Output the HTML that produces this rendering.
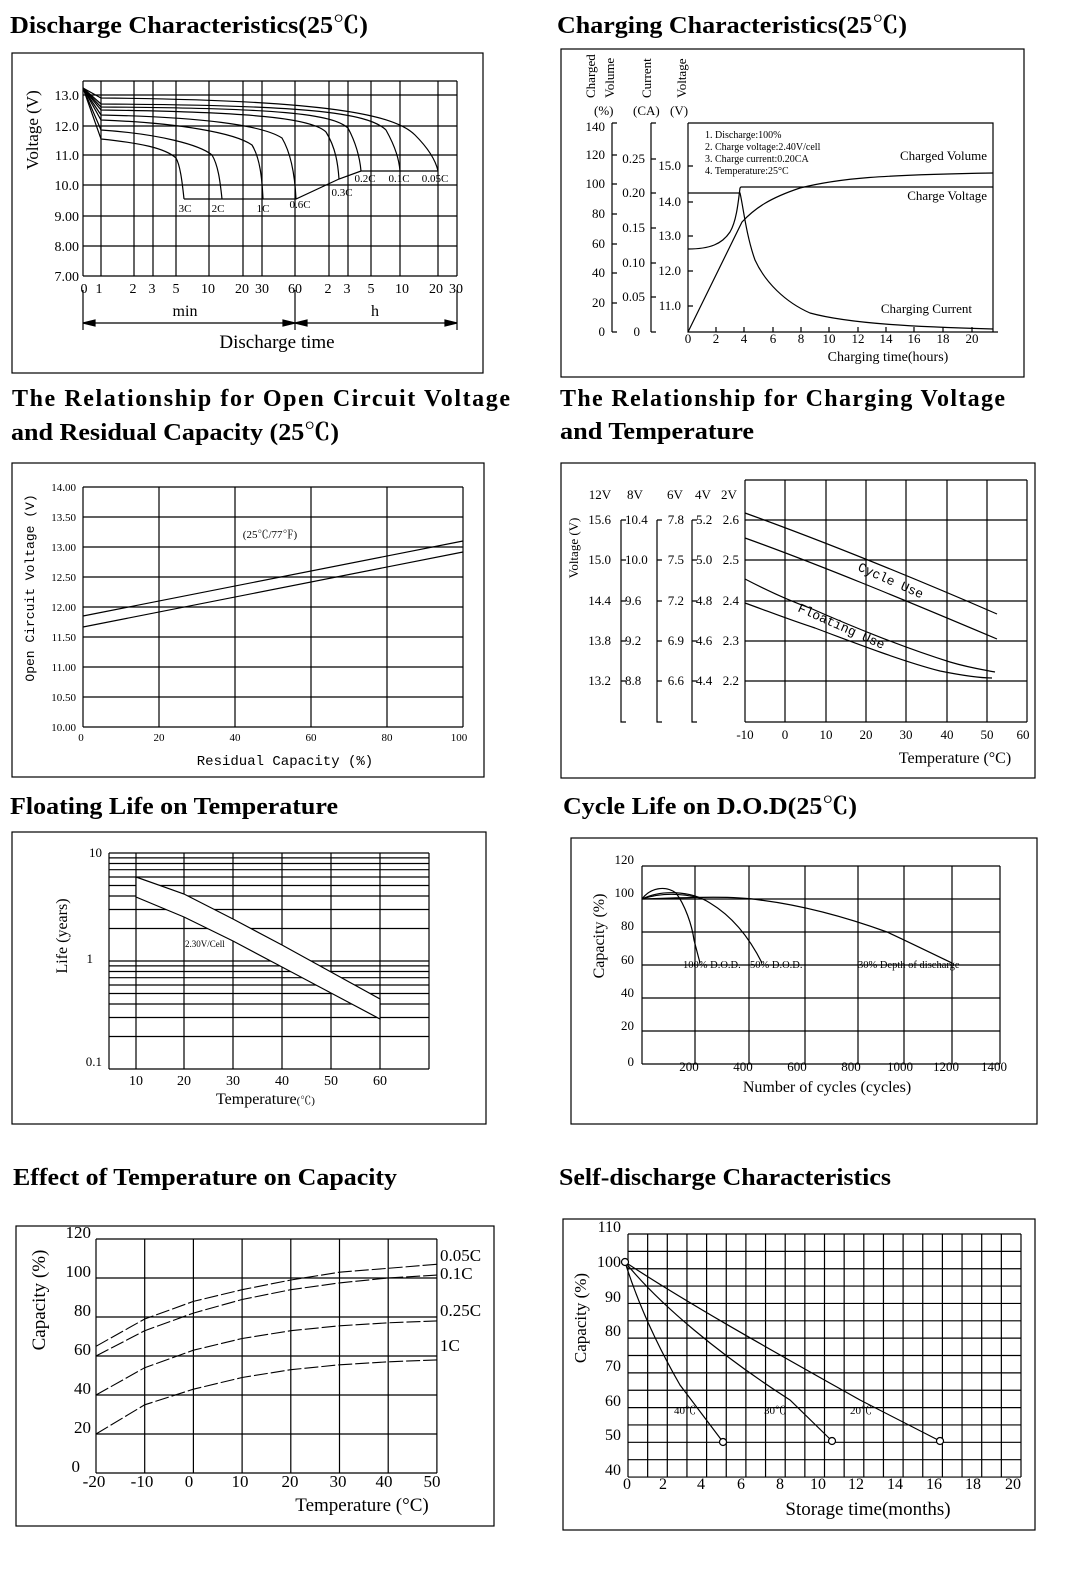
<!DOCTYPE html>
<html><head><meta charset="utf-8"><style>
html,body{margin:0;padding:0;background:#fff;}
svg{display:block;}
text{font-family:"Liberation Serif","Noto Serif CJK SC",serif;fill:#000;}
.t{font-size:24px;font-weight:bold;}
.m{font-family:"Liberation Mono","Noto Sans CJK SC",monospace;}
</style></head><body>
<svg id="s" width="1091" height="1576" viewBox="0 0 1091 1576" xmlns="http://www.w3.org/2000/svg">
<g id="grids" stroke="#000" stroke-width="1.2" fill="none"></g>
<g fill="none" stroke="#000" stroke-width="1.2">
<rect x="12" y="53" width="471" height="320"/>
<rect x="561" y="49" width="463" height="328"/>
<rect x="12" y="463" width="472" height="314"/>
<rect x="561" y="463" width="474" height="315"/>
<rect x="12" y="832" width="474" height="292"/>
<rect x="571" y="838" width="466" height="286"/>
<rect x="16" y="1226" width="478" height="300"/>
<rect x="563" y="1219" width="472" height="311"/>

<path d="M83,88 L101,139 C140,143 165,148 176,158 C180,165 182,180 184,199"/>
<path d="M83,88 L101,130 C160,134 200,145 212,155 C218,165 220,180 222,199"/>
<path d="M83,88 L101,120 C180,123 235,133 252,145 C260,158 262,178 263,199"/>
<path d="M83,88 L101,115 C200,117 262,125 282,138 C292,155 295,178 296,199"/>
<path d="M83,88 L101,110 C250,112 312,118 326,132 C336,148 338,165 339,179"/>
<path d="M83,88 L101,107 C280,108 332,114 348,128 C357,145 360,160 361,171"/>
<path d="M83,88 L101,104 C300,105 368,112 386,130 C396,148 399,160 400,171"/>
<path d="M83,88 L101,98 C330,100 395,115 415,135 C430,150 436,162 438,171"/>
<path d="M184,199 L296,199 L339,179 L361,171 L438,171"/>
<path d="M83,290 V330 M295,290 V330 M457,290 V330 M83,323 H457"/>
<path d="M83,323 l12,-3 v6 z M295,323 l-12,-3 v6 z M295,323 l12,-3 v6 z M457,323 l-12,-3 v6 z" fill="#000"/>

<path d="M688,123 H993 V332 M612,123 V332 M651,123 V332 M688,123 V332 H998"/>
<path d="M612,123 h5 M612,155 h5 M612,184 h5 M612,214 h5 M612,244 h5 M612,273 h5 M612,303 h5 M612,332 h5 M651,123 h5 M651,159 h5 M651,193 h5 M651,228 h5 M651,263 h5 M651,297 h5 M651,332 h5 M688,166 h5 M688,202 h5 M688,236 h5 M688,271 h5 M688,306 h5"/>
<path d="M716,332 v-5 M744,332 v-5 M773,332 v-5 M801,332 v-5 M829,332 v-5 M858,332 v-5 M886,332 v-5 M914,332 v-5 M943,332 v-5 M972,332 v-5"/>
<path d="M688,193 H740 C743,205 746,235 755,260 C765,282 785,302 810,313 C850,324 920,327 993,329"/>
<path d="M688,249 C710,249 722,244 730,232 C736,222 738,205 740,188 L741,187 H993"/>
<path d="M688,332 L742,222 C755,208 770,198 800,188 C840,178 880,175 993,173"/>

<path d="M83,616 L463,541 M83,627 L463,552"/>

<path d="M621,520 V722 h5 M621,520 h5 M621,560 h5 M621,601 h5 M621,641 h5 M621,681 h5"/>
<path d="M657,520 V722 h5 M657,520 h5 M657,560 h5 M657,601 h5 M657,641 h5 M657,681 h5"/>
<path d="M692,520 V722 h5 M692,520 h5 M692,560 h5 M692,601 h5 M692,641 h5 M692,681 h5"/>
<path d="M745,513 C820,540 900,572 997,614"/>
<path d="M745,538 C820,565 900,598 997,639"/>
<path d="M745,579 C770,592 790,601 810,608 C860,630 905,648 950,662 C970,668 985,670 995,672"/>
<path d="M745,603 C770,612 790,620 815,628 C860,645 905,662 940,671 C965,676 980,678 992,678"/>

<path d="M136,877 L184,894 L233,919 L282,945 L331,972 L380,999 V1019 L331,993 L282,967 L233,941 L184,917 L136,897 Z" fill="#fff"/>

<path d="M642,899 C650,888 665,885 676,893 C685,905 692,925 694,940 L700,963"/>
<path d="M642,899 C660,890 690,890 710,903 C730,915 748,935 762,963"/>
<path d="M642,899 C700,897 735,896 760,900 C800,905 840,915 887,932 C915,945 935,955 952,963"/>
<path d="M642,899 C660,893 680,893 700,898"/>

<g stroke-dasharray="14,3" stroke-width="1.1">
<path id="c1"/><path id="c2"/><path id="c3"/><path id="c4"/>
</g>

<path d="M625,1262 C640,1310 660,1350 680,1385 L723,1442"/>
<path d="M625,1262 C660,1305 720,1355 790,1400 L832,1441"/>
<path d="M625,1262 C690,1305 780,1355 860,1400 L940,1441"/>
<circle cx="625" cy="1262" r="3.5" fill="#fff"/>
<circle cx="723" cy="1442" r="3.5" fill="#fff"/>
<circle cx="832" cy="1441" r="3.5" fill="#fff"/>
<circle cx="940" cy="1441" r="3.5" fill="#fff"/>
</g>

<text class="t" x="10" y="33" textLength="358" lengthAdjust="spacingAndGlyphs">Discharge Characteristics(25℃)</text>
<text class="t" x="557" y="33" textLength="350" lengthAdjust="spacingAndGlyphs">Charging Characteristics(25℃)</text>
<text class="t" x="12" y="406" textLength="498" lengthAdjust="spacing">The Relationship for Open Circuit Voltage</text>
<text class="t" x="11" y="440" textLength="328" lengthAdjust="spacingAndGlyphs">and Residual Capacity (25℃)</text>
<text class="t" x="560" y="406" textLength="445" lengthAdjust="spacing">The Relationship for Charging Voltage</text>
<text class="t" x="560" y="439" textLength="194" lengthAdjust="spacingAndGlyphs">and Temperature</text>
<text class="t" x="10" y="814" textLength="328" lengthAdjust="spacingAndGlyphs">Floating Life on Temperature</text>
<text class="t" x="563" y="814" textLength="294" lengthAdjust="spacingAndGlyphs">Cycle Life on D.O.D(25℃)</text>
<text class="t" x="13" y="1185" textLength="384" lengthAdjust="spacingAndGlyphs">Effect of Temperature on Capacity</text>
<text class="t" x="559" y="1185" textLength="332" lengthAdjust="spacingAndGlyphs">Self-discharge Characteristics</text>

<g font-size="14" text-anchor="end">
<text x="79" y="100">13.0</text><text x="79" y="131">12.0</text><text x="79" y="160">11.0</text><text x="79" y="190">10.0</text><text x="79" y="221">9.00</text><text x="79" y="251">8.00</text><text x="79" y="281">7.00</text>
</g>
<text font-size="17" transform="translate(38,130) rotate(-90)" text-anchor="middle">Voltage (V)</text>
<g font-size="14" text-anchor="middle">
<text x="84" y="293">0</text><text x="99" y="293">1</text><text x="133" y="293">2</text><text x="152" y="293">3</text><text x="176" y="293">5</text><text x="208" y="293">10</text><text x="242" y="293">20</text><text x="262" y="293">30</text><text x="295" y="293">60</text><text x="328" y="293">2</text><text x="347" y="293">3</text><text x="371" y="293">5</text><text x="402" y="293">10</text><text x="436" y="293">20</text><text x="456" y="293">30</text>
<text x="185" y="316" font-size="16">min</text><text x="375" y="316" font-size="16">h</text>
<text x="277" y="348" font-size="19">Discharge time</text>
</g>
<g font-size="11" text-anchor="middle">
<text x="185" y="212">3C</text><text x="218" y="212">2C</text><text x="263" y="212">1C</text><text x="300" y="208">0.6C</text><text x="342" y="196">0.3C</text><text x="365" y="182">0.2C</text><text x="399" y="182">0.1C</text><text x="435" y="182">0.05C</text>
</g>

<g font-size="13">
<text transform="translate(595,98) rotate(-90)">Charged</text>
<text transform="translate(614,98) rotate(-90)">Volume</text>
<text transform="translate(651,98) rotate(-90)">Current</text>
<text transform="translate(686,98) rotate(-90)">Voltage</text>
<text x="594" y="115">(%)</text><text x="633" y="115">(CA)</text><text x="670" y="115">(V)</text>
</g>
<g font-size="13" text-anchor="end">
<text x="605" y="131">140</text><text x="605" y="159">120</text><text x="605" y="188">100</text><text x="605" y="218">80</text><text x="605" y="248">60</text><text x="605" y="277">40</text><text x="605" y="307">20</text><text x="605" y="336">0</text>
<text x="645" y="163">0.25</text><text x="645" y="197">0.20</text><text x="645" y="232">0.15</text><text x="645" y="267">0.10</text><text x="645" y="301">0.05</text><text x="640" y="336">0</text>
<text x="681" y="170">15.0</text><text x="681" y="206">14.0</text><text x="681" y="240">13.0</text><text x="681" y="275">12.0</text><text x="681" y="310">11.0</text>
</g>
<g font-size="13" text-anchor="middle">
<text x="688" y="343">0</text><text x="716" y="343">2</text><text x="744" y="343">4</text><text x="773" y="343">6</text><text x="801" y="343">8</text><text x="829" y="343">10</text><text x="858" y="343">12</text><text x="886" y="343">14</text><text x="914" y="343">16</text><text x="943" y="343">18</text><text x="972" y="343">20</text>
<text x="888" y="361" font-size="14">Charging time(hours)</text>
</g>
<g font-size="10">
<text x="705" y="138">1. Discharge:100%</text><text x="705" y="150">2. Charge voltage:2.40V/cell</text><text x="705" y="162">3. Charge current:0.20CA</text><text x="705" y="174">4. Temperature:25°C</text>
</g>
<g font-size="13" text-anchor="end">
<text x="987" y="160">Charged Volume</text><text x="987" y="200">Charge Voltage</text><text x="972" y="313">Charging Current</text>
</g>

<g font-size="11" text-anchor="end">
<text x="76" y="491">14.00</text><text x="76" y="521">13.50</text><text x="76" y="551">13.00</text><text x="76" y="581">12.50</text><text x="76" y="611">12.00</text><text x="76" y="641">11.50</text><text x="76" y="671">11.00</text><text x="76" y="701">10.50</text><text x="76" y="731">10.00</text>
</g>
<g font-size="11" text-anchor="middle">
<text x="81" y="741">0</text><text x="159" y="741">20</text><text x="235" y="741">40</text><text x="311" y="741">60</text><text x="387" y="741">80</text><text x="459" y="741">100</text>
<text x="270" y="538">(25℃/77℉)</text>
</g>
<text class="m" font-size="14" x="285" y="765" text-anchor="middle">Residual Capacity (%)</text>
<text class="m" font-size="13" transform="translate(34,588) rotate(-90)" text-anchor="middle">Open Circuit Voltage (V)</text>

<g font-size="13" text-anchor="middle">
<text x="600" y="499">12V</text><text x="635" y="499">8V</text><text x="675" y="499">6V</text><text x="703" y="499">4V</text><text x="729" y="499">2V</text>
</g>
<g font-size="13" text-anchor="end">
<text x="611" y="524">15.6</text><text x="611" y="564">15.0</text><text x="611" y="605">14.4</text><text x="611" y="645">13.8</text><text x="611" y="685">13.2</text>
<text x="684" y="524">7.8</text><text x="684" y="564">7.5</text><text x="684" y="605">7.2</text><text x="684" y="645">6.9</text><text x="684" y="685">6.6</text>
<text x="739" y="524">2.6</text><text x="739" y="564">2.5</text><text x="739" y="605">2.4</text><text x="739" y="645">2.3</text><text x="739" y="685">2.2</text>
</g>
<g font-size="13">
<text x="625" y="524">10.4</text><text x="625" y="564">10.0</text><text x="625" y="605">9.6</text><text x="625" y="645">9.2</text><text x="625" y="685">8.8</text>
<text x="696" y="524">5.2</text><text x="696" y="564">5.0</text><text x="696" y="605">4.8</text><text x="696" y="645">4.6</text><text x="696" y="685">4.4</text>
</g>
<text font-size="13" transform="translate(578,548) rotate(-90)" text-anchor="middle">Voltage (V)</text>
<g font-size="13" text-anchor="middle">
<text x="745" y="739">-10</text><text x="785" y="739">0</text><text x="826" y="739">10</text><text x="866" y="739">20</text><text x="906" y="739">30</text><text x="947" y="739">40</text><text x="987" y="739">50</text><text x="1023" y="739">60</text>
<text x="955" y="763" font-size="16">Temperature (°C)</text>
</g>
<text class="m" font-size="13" transform="translate(857,570) rotate(24)">Cycle Use</text>
<text class="m" font-size="13" transform="translate(797,611) rotate(24)">Floating Use</text>

<g font-size="13" text-anchor="end">
<text x="102" y="857">10</text><text x="93" y="963">1</text><text x="102" y="1066">0.1</text>
</g>
<g font-size="14" text-anchor="middle">
<text x="136" y="1085">10</text><text x="184" y="1085">20</text><text x="233" y="1085">30</text><text x="282" y="1085">40</text><text x="331" y="1085">50</text><text x="380" y="1085">60</text>
</g>
<text font-size="16" x="216" y="1104">Temperature<tspan font-size="11">(℃)</tspan></text>
<text font-size="16" transform="translate(67,936) rotate(-90)" text-anchor="middle">Life (years)</text>
<text font-size="9" x="185" y="947">2.30V/Cell</text>

<g font-size="13" text-anchor="end">
<text x="634" y="864">120</text><text x="634" y="897">100</text><text x="634" y="930">80</text><text x="634" y="964">60</text><text x="634" y="997">40</text><text x="634" y="1030">20</text><text x="634" y="1066">0</text>
</g>
<g font-size="13" text-anchor="middle">
<text x="689" y="1071">200</text><text x="743" y="1071">400</text><text x="797" y="1071">600</text><text x="851" y="1071">800</text><text x="900" y="1071">1000</text><text x="946" y="1071">1200</text><text x="994" y="1071">1400</text>
<text x="827" y="1092" font-size="16">Number of cycles (cycles)</text>
</g>
<text font-size="16" transform="translate(604,936) rotate(-90)" text-anchor="middle">Capacity (%)</text>
<g font-size="10.5">
<text x="683" y="968">100% D.O.D.</text><text x="750" y="968">50% D.O.D.</text><text x="858" y="968">30% Depth of  discharge</text>
</g>

<g font-size="17" text-anchor="end">
<text x="91" y="1238">120</text><text x="91" y="1277">100</text><text x="91" y="1316">80</text><text x="91" y="1355">60</text><text x="91" y="1394">40</text><text x="91" y="1433">20</text><text x="80" y="1472">0</text>
</g>
<g font-size="17" text-anchor="middle">
<text x="94" y="1487">-20</text><text x="142" y="1487">-10</text><text x="189" y="1487">0</text><text x="240" y="1487">10</text><text x="290" y="1487">20</text><text x="338" y="1487">30</text><text x="384" y="1487">40</text><text x="432" y="1487">50</text>
<text x="362" y="1511" font-size="19">Temperature (°C)</text>
</g>
<text font-size="19" transform="translate(45,1300) rotate(-90)" text-anchor="middle">Capacity (%)</text>
<g font-size="17">
<text x="440" y="1261">0.05C</text><text x="440" y="1279">0.1C</text><text x="440" y="1316">0.25C</text><text x="440" y="1351">1C</text>
</g>

<g font-size="16" text-anchor="end">
<text x="621" y="1232">110</text><text x="621" y="1267">100</text><text x="621" y="1302">90</text><text x="621" y="1336">80</text><text x="621" y="1371">70</text><text x="621" y="1406">60</text><text x="621" y="1440">50</text><text x="621" y="1475">40</text>
</g>
<g font-size="16" text-anchor="middle">
<text x="627" y="1489">0</text><text x="663" y="1489">2</text><text x="701" y="1489">4</text><text x="741" y="1489">6</text><text x="780" y="1489">8</text><text x="818" y="1489">10</text><text x="856" y="1489">12</text><text x="895" y="1489">14</text><text x="934" y="1489">16</text><text x="973" y="1489">18</text><text x="1013" y="1489">20</text>
<text x="868" y="1515" font-size="19">Storage time(months)</text>
</g>
<text font-size="17" transform="translate(586,1318) rotate(-90)" text-anchor="middle">Capacity (%)</text>
<g font-size="11">
<text x="674" y="1414">40℃</text><text x="764" y="1414">30℃</text><text x="850" y="1414">20℃</text>
</g>
</svg>
<script>
(function(){
var g=document.getElementById('grids'),d='';
function H(x1,x2,y){d+='M'+x1+','+y+'H'+x2;}
function V(y1,y2,x){d+='M'+x+','+y1+'V'+y2;}
[81,95,126,155,185,216,246,276].forEach(function(y){H(83,457,y);});
[83,101,134,153,176,209,243,262,295,329,348,371,400,438,457].forEach(function(x){V(81,276,x);});
for(var i=0;i<=8;i++)H(83,463,487+i*30);
for(i=0;i<=5;i++)V(487,727,83+i*76);
[480,520,560,601,641,681,722].forEach(function(y){H(745,1027,y);});
[745,785,826,866,906,947,987,1027].forEach(function(x){V(480,722,x);});
H(109,429,853);H(109,429,1069);
for(var dd=0;dd<2;dd++)for(var m=2;m<=10;m++){var y=1069-108*(dd+Math.log10(m));H(109,429,Math.round(y*10)/10);}
[109,136,184,233,282,331,380,429].forEach(function(x){V(853,1069,x);});
for(i=0;i<=6;i++)H(642,1000,866+i*33);
[642,695,749,805,858,904,952,1000].forEach(function(x){V(866,1064,x);});
for(i=0;i<=6;i++)H(96,437,1239+i*39);
for(i=0;i<=7;i++)V(1239,1473,96+i*48.7);
for(i=0;i<=14;i++)H(628,1021,1234+i*17.36);
for(i=0;i<=20;i++)V(1234,1477,628+i*19.65);
g.innerHTML='<path d="'+d+'"/>';
var T=[-20,-10,0,10,20,30,40,50];
var D=[[65,79,88,94,99,103,105,107],[60,73,82,89,94,97.5,100,101.5],[40,54,63,69,73,75.5,77,78],[20,35,43,49,53,55.5,57,58]];
for(var k=0;k<4;k++){var p='';for(var j=0;j<8;j++){var x=96+(T[j]+20)*4.87,yy=1473-D[k][j]*1.95;p+=(j?'L':'M')+x.toFixed(1)+','+yy.toFixed(1);}
document.getElementById('c'+(k+1)).setAttribute('d',p);}
})();
</script>
</body></html>
